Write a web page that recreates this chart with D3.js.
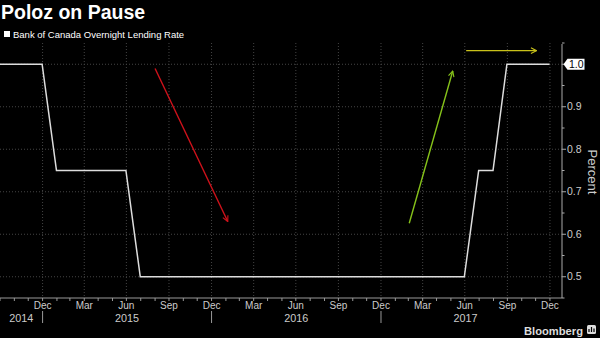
<!DOCTYPE html>
<html><head><meta charset="utf-8">
<script src="https://cdn.jsdelivr.net/npm/d3@7"></script>
<style>
html,body{margin:0;padding:0;background:#000;}
svg{display:block;font-family:"Liberation Sans",Arial,sans-serif;}
</style></head>
<body>
<script>
// ---- data ----
const title = "Poloz on Pause";
const seriesName = "Bank of Canada Overnight Lending Rate";
// month-end observations, Sep 2014 .. Dec 2017
const months = [
 "2014-09","2014-10","2014-11","2014-12",
 "2015-01","2015-02","2015-03","2015-04","2015-05","2015-06","2015-07","2015-08","2015-09","2015-10","2015-11","2015-12",
 "2016-01","2016-02","2016-03","2016-04","2016-05","2016-06","2016-07","2016-08","2016-09","2016-10","2016-11","2016-12",
 "2017-01","2017-02","2017-03","2017-04","2017-05","2017-06","2017-07","2017-08","2017-09","2017-10","2017-11","2017-12"];
const rates = [
 1.0,1.0,1.0,1.0,
 0.75,0.75,0.75,0.75,0.75,0.75,0.5,0.5,0.5,0.5,0.5,0.5,
 0.5,0.5,0.5,0.5,0.5,0.5,0.5,0.5,0.5,0.5,0.5,0.5,
 0.5,0.5,0.5,0.5,0.5,0.5,0.75,0.75,1.0,1.0,1.0,1.0];
const yTicks = [0.5,0.6,0.7,0.8,0.9,1.0];
const yMinorTicks = [0.45,0.55,0.65,0.75,0.85,0.95,1.05];
const monthNames = ["Jan","Feb","Mar","Apr","May","Jun","Jul","Aug","Sep","Oct","Nov","Dec"];
const years = [2014,2015,2016,2017];
// annotation arrows: [startDate, startValue, endDate, endValue]
const arrowNames = ["down","up","flat"];
const arrowColors = ["#d0121b","#86c21a","#c9c21a"];
const arrowStart = [["2015-09-01",0.99],["2017-03-03",0.626],["2017-07-04",1.032]];
const arrowEnd = [["2016-02-05",0.63],["2017-06-05",0.984],["2017-12-03",1.032]];

// ---- layout ----
const W = 600, H = 338;
const plot = {left:0, right:562, top:43, bottom:298};
const parse = d3.utcParse("%Y-%m-%d");
const monthEnd = m => { const d = d3.utcParse("%Y-%m")(m); return d3.utcDay.offset(d3.utcMonth.offset(d,1),-1); };
const data = months.map((m,i)=>({date: monthEnd(m), v: rates[i]}));

const x = d3.scaleUtc().domain([Date.UTC(2014,9,1), Date.UTC(2018,0,27)]).range([plot.left, plot.right]);
const y = d3.scaleLinear().domain([0.45,1.05]).range([plot.bottom, plot.top]);

const svg = d3.select("body").append("svg").attr("width",W).attr("height",H);
svg.append("rect").attr("width",W).attr("height",H).attr("fill","#000");

// title + legend
svg.append("text").attr("x",1).attr("y",19).attr("fill","#fff").attr("font-weight","bold")
  .attr("font-size",19.5).text(title);
svg.append("rect").attr("x",4).attr("y",31).attr("width",6).attr("height",6).attr("fill","#fff");
svg.append("text").attr("x",13).attr("y",37.5).attr("fill","#fff").attr("font-size",9.5).text(seriesName);

// grid
const qTicks = d3.utcMonth.every(3).range(Date.UTC(2015,0,1), Date.UTC(2018,0,2));
const mTicks = d3.utcMonth.range(Date.UTC(2014,9,1), Date.UTC(2018,0,27));
const grid = svg.append("g");
grid.selectAll(".vg").data(qTicks).join("line")
  .attr("x1",d=>x(d)).attr("x2",d=>x(d)).attr("y1",plot.top).attr("y2",plot.bottom)
  .attr("stroke","#444").attr("stroke-dasharray","1,2");
grid.selectAll(".hg").data(yTicks).join("line")
  .attr("x1",plot.left).attr("x2",plot.right).attr("y1",d=>y(d)).attr("y2",d=>y(d))
  .attr("stroke","#444").attr("stroke-dasharray","1,2");

// bottom axis
const ax = svg.append("g").attr("transform",`translate(0,${plot.bottom})`);
ax.append("line").attr("x1",plot.left).attr("x2",plot.right).attr("stroke","#999");
ax.selectAll(".mt").data(mTicks).join("line")
  .attr("x1",d=>x(d)).attr("x2",d=>x(d)).attr("y1",0).attr("y2",3).attr("stroke","#999");
ax.selectAll(".ql").data(qTicks).join("text")
  .attr("x",d=>x(d)).attr("y",11).attr("text-anchor","middle").attr("fill","#ccc").attr("font-size",10)
  .text(d=>monthNames[d3.utcDay.offset(d,-1).getUTCMonth()]);
const yearSep = years.slice(1).map(yr=>new Date(Date.UTC(yr,0,1)));
ax.selectAll(".ys").data(yearSep).join("line")
  .attr("x1",d=>x(d)).attr("x2",d=>x(d)).attr("y1",13).attr("y2",25).attr("stroke","#999");
ax.selectAll(".yl").data(years).join("text")
  .attr("x",yr=>{const a=Math.max(x(new Date(Date.UTC(yr,0,1))),plot.left);
                const b=Math.min(x(new Date(Date.UTC(yr+1,0,1))),plot.right+ -12);
                return (a+b)/2;})
  .attr("y",24).attr("text-anchor","middle").attr("fill","#ccc").attr("font-size",10.8).text(d=>d);

// right axis
const ay = svg.append("g").attr("transform",`translate(${plot.right},0)`);
ay.append("line").attr("y1",plot.top+1).attr("y2",plot.bottom).attr("stroke","#aaa");
ay.selectAll(".yt").data(yTicks).join("line")
  .attr("x1",0).attr("x2",4).attr("y1",d=>y(d)).attr("y2",d=>y(d)).attr("stroke","#aaa");
ay.selectAll(".ymt").data(yMinorTicks).join("line")
  .attr("x1",0).attr("x2",2.5).attr("y1",d=>y(d)).attr("y2",d=>y(d)).attr("stroke","#aaa");
const lastV = rates[rates.length-1];
ay.selectAll(".yl").data(yTicks.filter(t=>t!==lastV)).join("text")
  .attr("x",5).attr("y",d=>y(d)+3.7).attr("fill","#ccc").attr("font-size",10.5).text(d=>d.toFixed(1));
// last-value callout
const cy = y(lastV);
ay.append("path").attr("d",`M1.5,${cy} L5.5,${cy-5.5} H22.5 V${cy+5.5} H5.5 Z`).attr("fill","#fff");
ay.append("text").attr("x",7).attr("y",cy+3.8).attr("fill","#000").attr("font-size",10.5).text(lastV.toFixed(1));
svg.append("text").attr("transform",`translate(588,172) rotate(90)`).attr("text-anchor","middle")
  .attr("fill","#ccc").attr("font-size",13).text("Percent");

// line
svg.append("path").datum(data)
  .attr("d",d3.line().x(d=>x(d.date)).y(d=>y(d.v)))
  .attr("fill","none").attr("stroke","#ddd").attr("stroke-width",1.5);

// arrows
const defs = svg.append("defs");
arrowNames.forEach((n,i)=>{
  defs.append("marker").attr("id","ah-"+n).attr("viewBox","0 0 10 10").attr("refX",9).attr("refY",5)
    .attr("markerWidth",7).attr("markerHeight",7).attr("markerUnits","userSpaceOnUse").attr("orient","auto")
    .append("path").attr("d","M1,1 L9,5 L1,9").attr("fill","none").attr("stroke",arrowColors[i]).attr("stroke-width",1.6);
  svg.append("line")
    .attr("x1",x(parse(arrowStart[i][0]))).attr("y1",y(arrowStart[i][1]))
    .attr("x2",x(parse(arrowEnd[i][0]))).attr("y2",y(arrowEnd[i][1]))
    .attr("stroke",arrowColors[i]).attr("stroke-width",1.4).attr("marker-end",`url(#ah-${n})`);
});

// Bloomberg logo
svg.append("text").attr("x",583).attr("y",334.5).attr("text-anchor","end").attr("fill","#ddd")
  .attr("font-weight","bold").attr("font-size",11.2).text("Bloomberg");
svg.append("rect").attr("x",587).attr("y",325).attr("width",9).attr("height",9).attr("rx",1.5).attr("fill","#ddd");
svg.append("path").attr("d","M589,332 V329 M591.5,332 V327 M594,332 V328.5").attr("stroke","#000").attr("stroke-width",1.2);
</script>
</body></html>
